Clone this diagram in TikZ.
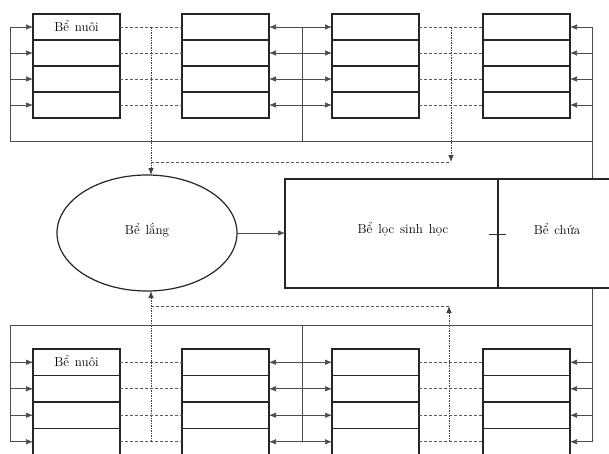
\documentclass[tikz,border=0pt]{standalone}
\usetikzlibrary{shapes.geometric,arrows.meta}
\newcommand\tankfont{\fontsize{13}{15}\selectfont\setlength{\spaceskip}{6pt plus 1pt minus 1pt}}
\begin{document}
\begin{tikzpicture}[x=1pt,y=-1pt,
  cell/.style={draw=black!85, line width=1.2pt, minimum width=87pt, minimum height=26pt, inner sep=0pt, outer sep=0pt},
  cellb/.style={cell, minimum height=26.5pt},
  txt/.style={font=\tankfont, inner sep=0pt},
  feed/.style={draw=black!70, line width=0.7pt},
  tip/.style={-{Latex[length=7pt,width=5.5pt]}},
  arr/.style={feed, tip},
  dline/.style={draw=black!65, line width=0.7pt, dash pattern=on 3pt off 2pt},
  dvert/.style={draw=black!75, line width=0.8pt, dash pattern=on 1.5pt off 1pt},
  tank/.style={draw=black!85, line width=1.2pt, fill=white, inner sep=0pt, outer sep=0pt}]
\useasboundingbox (0,0) rectangle (609,453);
\clip (0,0) rectangle (609,453);

% top row tanks
\foreach \i/\y in {1/27,2/53,3/79,4/105} {
  \node[cell] (a\i) at (76.5,\y) {};
  \node[cell] (b\i) at (225.5,\y) {};
  \node[cell] (c\i) at (375.5,\y) {};
  \node[cell] (d\i) at (526.5,\y) {};
}
% bottom row tanks
\foreach \i/\y in {1/362.25,2/388.75,3/415.25,4/441.75} {
  \node[cellb] (e\i) at (76.5,\y) {};
  \node[cellb] (f\i) at (225.5,\y) {};
  \node[cellb] (g\i) at (375.5,\y) {};
  \node[cellb] (h\i) at (526.5,\y) {};
}
\node[txt] (a1t) at (76.5,26) {Bể nuôi};
\node[txt] (e1t) at (76.5,361) {Bể nuôi};

% feed bus coordinates
\coordinate (tl) at (10,141);
\coordinate (tm) at (302,141);
\coordinate (tr) at (592,141);
\coordinate (bl) at (10,325);
\coordinate (bm) at (302,325);
\coordinate (br) at (592,325);

\draw[feed] (a1.west -| tl) -- (tl) -- (tr);
\draw[feed] (b1.east -| tm) -- (tm);
\draw[feed] (d1.east -| tr) -- (h4.east -| tr);
\draw[feed] (e4.west -| bl) -- (bl) -- (br);
\draw[feed] (bm) -- (f4.east -| bm);

\foreach \i in {1,2,3,4} {
  \draw[arr] (a\i.west -| tl) -- (a\i.west);
  \draw[arr] (b\i.east -| tm) -- (b\i.east);
  \draw[arr] (c\i.west -| tm) -- (c\i.west);
  \draw[arr] (d\i.east -| tr) -- (d\i.east);
  \draw[arr] (e\i.west -| bl) -- (e\i.west);
  \draw[arr] (f\i.east -| bm) -- (f\i.east);
  \draw[arr] (g\i.west -| bm) -- (g\i.west);
  \draw[arr] (h\i.east -| br) -- (h\i.east);
  \draw[dline] (a\i.east) -- (b\i.west);
  \draw[dline] (c\i.east) -- (d\i.west);
  \draw[dline] (e\i.east) -- (f\i.west);
  \draw[dline] (g\i.east) -- (h\i.west);
}

% settling tank
\node[tank, ellipse, minimum width=180pt, minimum height=116pt] (lang) at (147,233) {};
\node[txt] (langt) at (147,230) {Bể lắng};

% drain collectors
\coordinate (vt) at (151,162);
\coordinate (vt2) at (451,162);
\coordinate (vb) at (151,306);
\coordinate (vb2) at (449,306);
\draw[dvert, tip] (a1.east -| vt) -- (vt |- lang.north);
\draw[dline] (vt) -- (vt2);
\draw[dvert, tip] (c1.east -| vt2) -- (vt2);
\draw[dvert, tip] (e4.east -| vb) -- (vb |- lang.south);
\draw[dline] (vb) -- (vb2);
\draw[dvert, tip] (g4.east -| vb2) -- (vb2);

% biofilter and storage tank
\node[tank, minimum width=213pt, minimum height=109pt] (loc) at (391.5,233.5) {};
\node[tank, minimum width=112pt, minimum height=109pt] (chua) at (554,233.5) {};
\node[txt] (loct) at (403,229) {Bể lọc sinh học};
\node[txt] (chuat) at (557,229) {Bể chứa};
\draw[line width=0.8pt, black!80] (489,234) -- (506,234);

\draw[arr] (lang.east) -- (lang.east -| loc.west);
\end{tikzpicture}
\end{document}
